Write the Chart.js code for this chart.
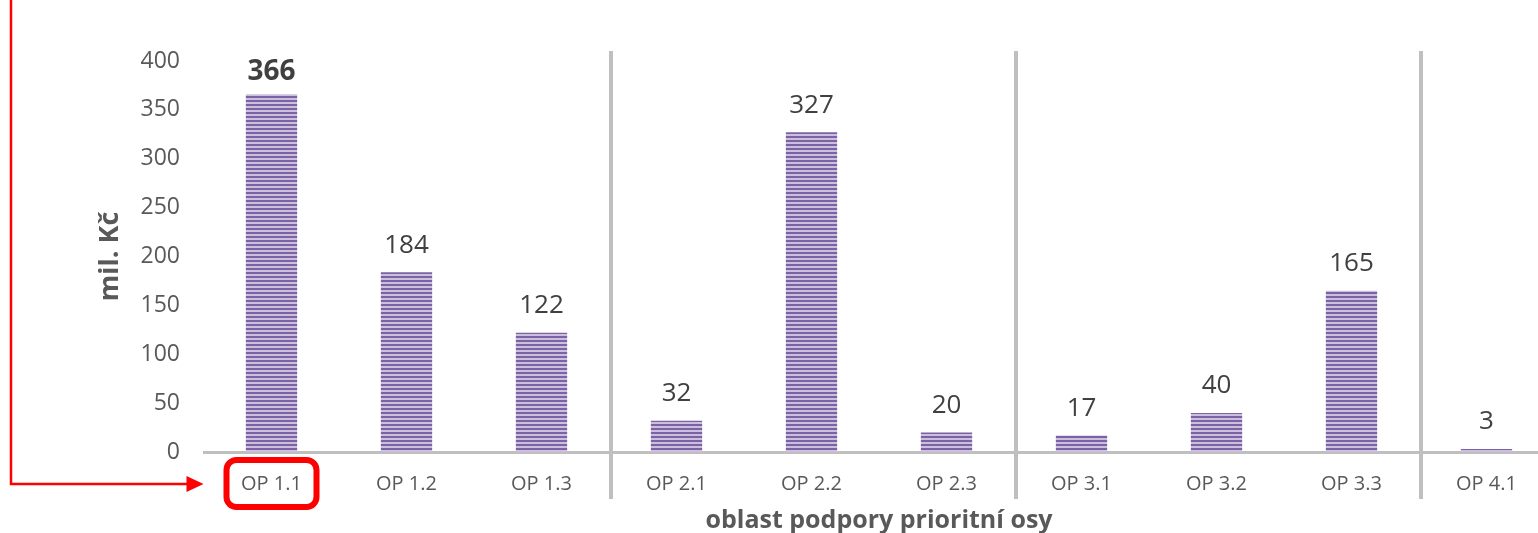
<!DOCTYPE html>
<html>
<head>
<meta charset="utf-8">
<script src="https://cdn.jsdelivr.net/npm/chart.js@4"></script>
<style>
  html, body { margin: 0; padding: 0; background: #fff; overflow: hidden; }
  #wrap { width: 1560px; height: 533px; }
</style>
</head>
<body>
<div id="wrap"><canvas id="chart" width="1560" height="533"></canvas></div>
<script>
// chart data
const categories = ['OP 1.1', 'OP 1.2', 'OP 1.3', 'OP 2.1', 'OP 2.2', 'OP 2.3', 'OP 3.1', 'OP 3.2', 'OP 3.3', 'OP 4.1'];
const amounts = [366, 184, 122, 32, 327, 20, 17, 40, 165, 3];
const yTicks = [0, 50, 100, 150, 200, 250, 300, 350, 400];
const groupBreaks = [2, 5, 8]; // separator after these category indexes
const highlighted = 0; // OP 1.1 is marked in red

const FONT = '"Open Sans", sans-serif';

// striped fill like the original bars
function makeStripes() {
    const c = document.createElement('canvas');
    c.width = 8;
    c.height = 4;
    const g = c.getContext('2d');
    g.fillStyle = '#cbbfdd';
    g.fillRect(0, 0, 8, 4);
    g.fillStyle = '#7b62a5';
    g.fillRect(0, 0, 8, 2);
    return document.getElementById('chart').getContext('2d').createPattern(c, 'repeat');
}

// value labels above the bars
const valueLabels = {
    id: 'valueLabels',
    afterDatasetsDraw(chart) {
        const ctx = chart.ctx;
        const meta = chart.getDatasetMeta(0);
        ctx.save();
        ctx.fillStyle = '#404040';
        ctx.textAlign = 'center';
        ctx.textBaseline = 'bottom';
        meta.data.forEach((bar, i) => {
            const bold = i === highlighted;
            ctx.font = (bold ? 'bold 28px ' : '26px ') + FONT;
            ctx.fillText(String(amounts[i]), bar.x, bar.y - (bold ? 8 : 14));
        });
        ctx.restore();
    }
};

// grey vertical lines between priority axes + red marker
const decorations = {
    id: 'decorations',
    afterDraw(chart) {
        const ctx = chart.ctx;
        const x = chart.scales.x;
        const area = chart.chartArea;
        ctx.save();
        ctx.strokeStyle = '#bfbfbf';
        ctx.lineWidth = 4;
        groupBreaks.forEach(i => {
            const px = (x.getPixelForValue(i) + x.getPixelForValue(i + 1)) / 2 + 2;
            ctx.beginPath();
            ctx.moveTo(px, area.top - 10);
            ctx.lineTo(px, area.bottom + 47);
            ctx.stroke();
        });

        // red box around the highlighted label
        const cx = x.getPixelForValue(highlighted);
        ctx.strokeStyle = '#ff0000';
        ctx.lineWidth = 6;
        ctx.beginPath();
        ctx.roundRect(cx - 45, area.bottom + 8, 90, 47, 10);
        ctx.stroke();

        // red arrow from the left edge
        const ay = area.bottom + 32;
        ctx.lineWidth = 2.5;
        ctx.beginPath();
        ctx.moveTo(11, 0);
        ctx.lineTo(11, ay);
        ctx.lineTo(cx - 84, ay);
        ctx.stroke();
        ctx.fillStyle = '#ff0000';
        ctx.beginPath();
        ctx.moveTo(cx - 68, ay);
        ctx.lineTo(cx - 85, ay - 8);
        ctx.lineTo(cx - 85, ay + 8);
        ctx.closePath();
        ctx.fill();
        ctx.restore();
    }
};

new Chart(document.getElementById('chart'), {
    type: 'bar',
    data: {
        labels: categories,
        datasets: [{
            data: amounts,
            backgroundColor: makeStripes(),
            borderWidth: 0,
            barPercentage: 0.38,
            categoryPercentage: 1
        }]
    },
    options: {
        responsive: false,
        maintainAspectRatio: false,
        animation: false,
        layout: { padding: { top: 61, right: 6, bottom: 0, left: 0 } },
        plugins: {
            legend: { display: false },
            tooltip: { enabled: false }
        },
        scales: {
            x: {
                grid: { display: false, drawTicks: false },
                border: { display: true, color: '#bfbfbf', width: 3 },
                ticks: {
                    color: '#595959',
                    font: { family: FONT, size: 20 },
                    padding: 20,
                    maxRotation: 0
                },
                title: {
                    display: true,
                    text: 'oblast podpory prioritní osy',
                    color: '#595959',
                    font: { family: FONT, size: 25, weight: 'bold', lineHeight: 1 },
                    padding: { top: 0, bottom: 0 }
                },
                afterFit(scale) { scale.height = 81; }
            },
            y: {
                min: 0,
                max: 400,
                afterBuildTicks(scale) { scale.ticks = yTicks.map(v => ({ value: v })); },
                grid: { display: false, drawTicks: false },
                border: { display: false },
                ticks: {
                    color: '#595959',
                    font: { family: FONT, size: 23 },
                    padding: 24
                },
                title: {
                    display: true,
                    text: 'mil. Kč',
                    color: '#595959',
                    font: { family: FONT, size: 27, weight: 'bold', lineHeight: 1 },
                    padding: { top: 97, bottom: 0 }
                },
                afterFit(scale) { scale.width = 204; }
            }
        }
    },
    plugins: [valueLabels, decorations]
});
</script>
</body>
</html>
